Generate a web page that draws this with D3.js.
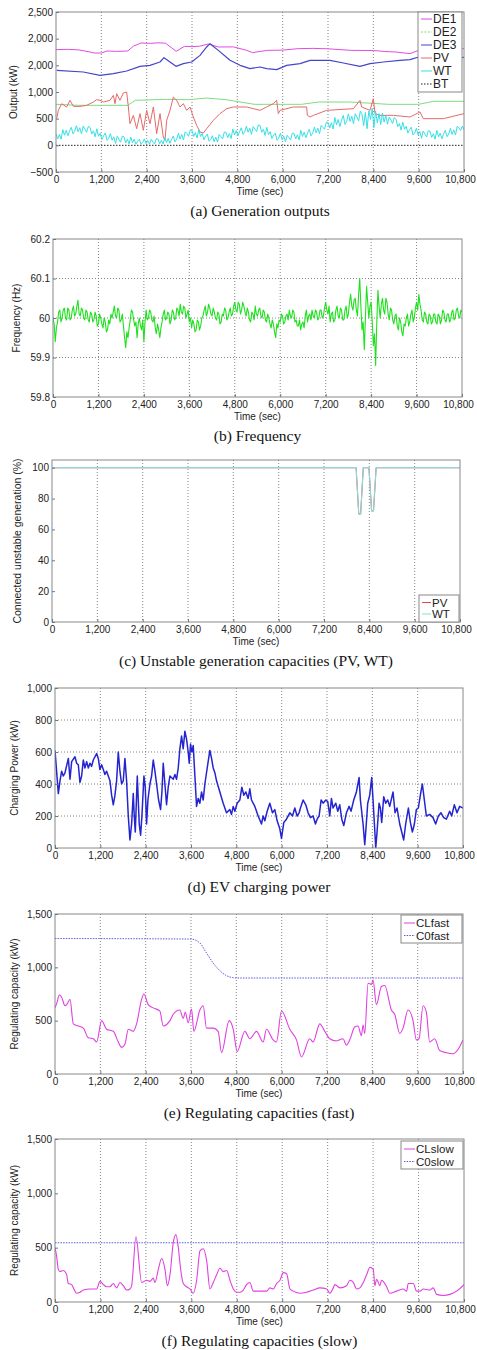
<!DOCTYPE html>
<html>
<head>
<meta charset="utf-8">
<script src="https://cdn.jsdelivr.net/npm/d3@7"></script>
<style>
  body { margin: 0; background: #fff; }
  svg { display: block; }
</style>
</head>
<body>
<svg id="fig" width="477" height="1350"></svg>
<script>
// ---- data ----
var xTicks = [0, 1200, 2400, 3600, 4800, 6000, 7200, 8400, 9600, 10800];

// (a) generation outputs, kW — [time sec, value]
var de1Output = [[0,1794],[300,1800],[600,1790],[900,1750],[1000,1731],[1200,1731],[1350,1769],[1600,1762],[1900,1769],[2050,1860],[2250,1919],[2500,1912],[2700,1922],[2900,1915],[3180,1763],[3400,1856],[3600,1850],[3800,1858],[4030,1900],[4300,1844],[4700,1846],[5050,1781],[5200,1738],[5400,1760],[5600,1781],[6000,1785],[6400,1812],[6800,1818],[7200,1810],[7800,1781],[8400,1778],[8700,1760],[9000,1750],[9370,1719],[9600,1781],[10000,1812],[10800,1812]];
var de2Output = [[0,769],[600,750],[1900,750],[2100,844],[2900,862],[3500,856],[3990,887],[4500,856],[5250,769],[6500,769],[6950,812],[7800,812],[8800,769],[9600,769],[10000,825],[10800,825]];
var de3Output = [[18,1406],[724,1375],[1165,1312],[1518,1344],[1871,1394],[2224,1481],[2488,1500],[2753,1562],[2859,1644],[3018,1562],[3177,1481],[3371,1531],[3591,1562],[3812,1687],[3988,1844],[4077,1906],[4297,1781],[4606,1594],[4871,1500],[5135,1437],[5400,1469],[5576,1437],[5841,1419],[6106,1500],[6459,1531],[6724,1594],[7253,1594],[7606,1544],[8047,1481],[8312,1531],[8665,1562],[9106,1594],[9371,1606],[9600,1656],[9812,1625],[10800,1650]];
var pvOutput = [[18,500],[62,656],[150,781],[282,718],[371,844],[459,731],[635,731],[812,750],[988,812],[1076,856],[1165,844],[1253,812],[1429,844],[1518,937],[1562,781],[1606,969],[1694,844],[1782,981],[1871,1000],[1915,719],[1959,406],[2047,562],[2135,312],[2224,594],[2312,281],[2400,656],[2488,406],[2577,719],[2665,219],[2753,594],[2841,156],[2885,94],[2930,469],[3018,656],[3106,906],[3194,844],[3283,719],[3371,781],[3459,656],[3547,719],[3635,531],[3724,375],[3812,250],[3900,231],[3988,312],[4165,469],[4341,594],[4518,687],[4694,719],[5047,719],[5400,656],[5576,719],[5753,781],[5841,844],[5885,594],[5930,656],[6283,719],[6636,719],[6653,562],[6724,531],[6812,562],[7165,656],[7871,687],[8047,844],[8091,719],[8312,656],[8400,875],[8444,594],[8577,562],[8930,562],[9371,531],[9635,625],[9724,500],[10253,500],[10800,594]];
// WT sampled every 45 s
var wtOutput = [216,120,205,115,295,190,280,182,270,337,215,262,368,255,330,216,362,305,245,355,
  335,212,272,160,310,170,227,110,180,232,95,125,220,95,160,35,170,115,60,175,
  160,46,113,28,154,50,116,22,78,114,22,52,122,32,92,22,112,62,23,125,
  117,30,93,26,148,51,130,38,117,175,64,116,227,116,204,100,255,219,169,289,
  279,169,239,137,295,165,225,103,172,212,78,105,180,68,155,60,204,160,120,250,
  245,143,220,127,306,195,275,173,260,328,205,253,361,246,320,206,350,304,258,381,
  372,245,300,185,338,202,255,129,192,226,95,132,228,105,171,68,188,144,101,227,
  224,120,197,103,280,168,246,144,232,300,178,226,340,236,322,218,374,340,302,433,
  433,324,424,305,524,384,483,353,473,562,392,451,590,448,546,405,593,531,456,641,
  576,371,617,312,645,486,688,331,645,420,595,390,603,437,561,396,530,475,410,523,
  490,350,408,286,435,302,356,230,295,340,194,226,320,194,259,133,267,212,156,274,
  262,149,217,115,282,159,227,124,214,283,161,210,318,206,288,193,357,330,280,360,290];
var btOutput = [[0,0],[10800,0]];
var yTicksA = [-500, 0, 500, 1000, 1500, 2000, 2500];
var yTickLabelsA = ['\u2212500', '0', '500', '1,000', '2,000', '2,000', '2,500'];

// (b) frequency, Hz, sampled every 30 s
var frequency = [
  60.00,59.985,59.94,59.975,59.99,60.015,60.02,59.99,60.00,60.02,60.025,60.00,59.995,60.025,60.02,59.995,60.00,60.02,60.03,60.005,
  60.01,60.03,60.045,60.01,60.005,60.025,60.02,60.00,59.995,60.02,60.015,59.995,59.99,60.015,60.01,59.99,59.995,60.015,60.005,59.98,
  59.985,60.01,60.00,59.985,59.975,60.00,59.99,59.965,59.97,59.995,59.985,60.01,60.00,60.015,60.03,60.005,60.00,60.025,60.02,59.99,
  59.995,60.01,59.98,59.95,59.925,59.965,59.95,59.975,59.995,60.02,60.015,59.995,59.98,59.99,59.95,59.985,60.00,59.98,59.97,59.995,
  59.94,59.99,60.02,59.995,60.00,60.02,60.015,59.995,59.99,60.005,59.975,59.96,59.985,59.97,59.95,59.975,59.99,60.01,60.02,59.995,
  60.00,60.015,60.01,59.985,59.995,60.02,60.015,59.995,60.00,60.025,60.02,60.005,60.035,60.015,60.01,60.03,60.025,60.00,60.01,60.02,
  59.99,60.00,59.975,59.995,59.985,59.965,59.97,59.995,59.99,59.97,59.98,60.00,60.005,60.02,60.03,60.005,60.015,60.035,60.025,60.01,
  60.005,60.025,60.015,60.00,59.995,60.015,60.01,59.985,59.99,60.01,60.005,60.025,60.02,59.995,60.00,60.015,60.025,60.005,60.01,60.03,
  60.04,60.02,60.015,60.04,60.035,60.01,60.02,60.04,60.03,60.015,60.005,60.025,60.015,59.995,59.99,60.015,60.01,59.995,60.03,60.01,
  60.005,60.02,60.025,60.005,60.00,60.02,60.015,59.995,59.99,60.01,60.00,59.985,59.975,59.995,59.985,59.965,59.95,59.985,59.975,59.995,
  59.99,60.01,60.005,59.985,59.99,60.005,60.01,59.995,60.02,60.005,60.00,60.02,60.015,59.99,59.995,59.98,59.98,59.995,59.97,59.985,
  59.99,59.975,60.005,60.02,59.99,60.005,60.01,59.995,60.02,60.005,60.00,60.02,60.015,59.995,60.00,60.02,60.02,60.00,60.005,60.025,
  60.04,60.02,60.01,60.03,59.99,60.01,60.015,59.99,59.995,60.02,60.03,60.005,60.00,60.025,60.02,59.995,59.995,60.02,60.03,60.00,
  60.01,60.04,60.06,60.03,60.02,60.045,60.05,60.02,60.005,60.06,60.10,60.03,59.97,59.99,59.92,60.00,60.08,60.04,60.00,60.03,
  60.04,59.99,59.93,59.96,59.88,59.99,60.07,60.03,60.00,60.035,60.05,60.02,60.01,60.05,60.04,60.01,59.995,60.025,60.02,59.995,
  59.985,60.005,60.01,59.98,59.97,60.00,59.99,59.965,59.955,59.985,59.98,60.00,60.01,59.98,59.99,60.01,60.02,59.99,60.00,60.025,
  60.04,60.02,60.06,60.035,60.02,59.995,59.99,60.015,60.01,59.99,59.985,60.01,60.005,59.985,59.99,60.01,60.01,59.99,59.985,60.01,
  60.005,59.985,59.995,60.02,60.015,59.995,59.99,60.01,60.01,59.99,59.995,60.015,60.02,59.995,60.00,60.02,60.025,60.005,60.00,60.02,
  60.015];
var yTicksB = [59.8, 59.9, 60, 60.1, 60.2];
var yTickLabelsB = ['59.8', '59.9', '60', '60.1', '60.2'];

// (c) connected unstable generation, %
var connPV = [[0,100],[8050,100],[8120,70],[8170,70],[8240,100],[8390,100],[8460,72],[8510,72],[8580,100],[10800,100]];
var connWT = [[0,100],[8050,100],[8120,70],[8170,70],[8240,100],[8390,100],[8460,72],[8510,72],[8580,100],[10800,100]];
var yTicksC = [0, 20, 40, 60, 80, 100];

// (d) EV charging power, kW
var evPower = [[0,610],[88,340],[132,420],[176,480],[220,450],[264,470],[353,560],[397,430],[441,540],[529,570],[573,530],[617,520],[661,410],[705,450],[749,550],[793,500],[838,540],[882,500],[926,530],[970,510],[1014,550],[1102,590],[1146,560],[1190,490],[1234,520],[1278,490],[1322,460],[1366,480],[1455,420],[1499,330],[1543,270],[1587,330],[1631,420],[1675,600],[1719,480],[1763,400],[1807,420],[1851,560],[1895,420],[1940,200],[1984,50],[2028,150],[2072,340],[2098,200],[2125,100],[2178,450],[2230,150],[2266,80],[2301,200],[2354,450],[2389,380],[2424,150],[2460,300],[2513,400],[2557,450],[2601,550],[2645,480],[2689,400],[2742,300],[2795,240],[2830,350],[2865,530],[2909,400],[2953,270],[2997,380],[3042,450],[3130,430],[3174,460],[3218,430],[3262,500],[3306,620],[3350,700],[3394,620],[3438,730],[3482,680],[3526,600],[3553,530],[3588,650],[3623,600],[3659,640],[3703,450],[3747,260],[3791,310],[3835,280],[3879,350],[3923,300],[3967,400],[4029,500],[4099,610],[4144,560],[4188,500],[4232,470],[4276,420],[4364,350],[4452,280],[4540,220],[4628,240],[4672,210],[4717,260],[4761,230],[4822,280],[4893,300],[4946,380],[4999,330],[5052,350],[5113,310],[5157,370],[5201,300],[5290,260],[5378,200],[5466,150],[5510,200],[5554,170],[5616,230],[5686,280],[5757,220],[5819,240],[5880,170],[5951,120],[5995,60],[6057,160],[6127,180],[6215,220],[6286,200],[6348,250],[6409,200],[6462,220],[6497,250],[6568,300],[6638,270],[6700,220],[6762,190],[6832,200],[6894,150],[6938,180],[6991,200],[7044,300],[7097,280],[7168,300],[7220,290],[7273,200],[7317,310],[7361,250],[7432,280],[7485,230],[7538,270],[7591,180],[7644,140],[7714,220],[7785,260],[7837,230],[7908,300],[7978,350],[8049,440],[8084,300],[8155,150],[8199,20],[8225,100],[8278,280],[8331,330],[8384,440],[8419,300],[8455,150],[8490,0],[8525,100],[8578,280],[8613,250],[8648,160],[8701,320],[8754,280],[8807,300],[8860,260],[8948,350],[9001,220],[9054,250],[9125,150],[9178,100],[9230,50],[9283,150],[9354,250],[9407,160],[9460,100],[9513,150],[9565,240],[9618,250],[9671,330],[9724,400],[9777,300],[9830,200],[9918,210],[10006,190],[10077,150],[10147,200],[10218,220],[10288,190],[10359,180],[10447,230],[10500,200],[10570,270],[10641,220],[10712,260],[10800,250]];
var yTicksD = [0, 200, 400, 600, 800, 1000];

// (e) regulating capacities (fast), kW
var clFast = [[0,620],[44,660],[115,740],[176,720],[264,640],[326,660],[397,700],[485,470],[617,450],[749,430],[882,340],[1014,330],[1102,300],[1234,500],[1366,420],[1543,400],[1675,300],[1763,250],[1851,280],[1940,420],[2072,400],[2160,470],[2292,700],[2354,750],[2468,650],[2601,620],[2777,590],[2865,450],[3042,500],[3130,560],[3306,600],[3394,520],[3447,580],[3526,480],[3614,610],[3676,400],[3835,600],[3923,640],[4011,430],[4188,430],[4320,400],[4408,200],[4611,500],[4717,420],[4822,210],[5025,400],[5157,330],[5334,400],[5510,300],[5598,420],[5774,320],[5863,300],[5995,590],[6215,420],[6392,320],[6524,160],[6744,330],[6832,300],[7009,470],[7141,400],[7273,330],[7450,310],[7626,330],[7714,270],[7802,320],[7934,440],[8022,450],[8111,360],[8155,460],[8199,380],[8287,850],[8375,840],[8419,880],[8508,650],[8640,820],[8728,830],[8904,600],[8992,560],[9125,380],[9213,430],[9345,600],[9477,500],[9565,320],[9636,330],[9742,640],[9830,580],[9918,300],[10050,330],[10182,220],[10359,200],[10535,190],[10667,230],[10800,320]];
var c0Fast = [[0,1270],[3600,1265],[3835,1228],[4011,1134],[4188,1040],[4364,969],[4540,922],[4717,903],[4800,900],[10800,900]];

// (f) regulating capacities (slow), kW
var clSlow = [[0,500],[44,420],[88,300],[132,280],[220,290],[308,250],[352,170],[440,160],[484,130],[572,80],[660,90],[748,110],[924,120],[1100,120],[1188,190],[1276,160],[1364,140],[1452,140],[1540,170],[1628,130],[1716,180],[1804,150],[1892,110],[1980,120],[2024,150],[2138,600],[2288,180],[2420,200],[2508,190],[2596,220],[2640,180],[2728,300],[2816,400],[2904,300],[2966,150],[3036,250],[3124,550],[3194,620],[3256,500],[3318,300],[3388,170],[3476,140],[3564,120],[3652,80],[3740,200],[3828,470],[3916,490],[4004,380],[4092,120],[4180,180],[4268,250],[4356,310],[4444,280],[4532,290],[4620,200],[4708,120],[4796,90],[4884,90],[4972,110],[5060,160],[5148,180],[5236,100],[5412,100],[5588,100],[5676,130],[5764,120],[5852,170],[5940,200],[6028,270],[6116,260],[6204,120],[6292,100],[6468,80],[6644,90],[6820,110],[6996,130],[7172,120],[7260,80],[7348,130],[7392,160],[7524,130],[7700,150],[7788,200],[7876,180],[7964,120],[8052,130],[8140,180],[8228,250],[8316,320],[8404,300],[8448,150],[8492,210],[8580,150],[8624,200],[8668,190],[8756,140],[8844,80],[9020,100],[9196,120],[9284,100],[9328,170],[9460,170],[9548,100],[9636,100],[9724,120],[9900,110],[9988,130],[10076,70],[10252,60],[10428,70],[10604,100],[10800,160]];
var c0Slow = [[0,545],[10800,545]];
var yTicksEF = [0, 500, 1000, 1500];

// ---- drawing ----
var svg = d3.select('#fig');
var SANS = "'Liberation Sans', Arial, sans-serif";
var SERIF = "'Liberation Serif', 'Times New Roman', serif";

function sampled(values, step) {
  return values.map(function(v, i) { return [i * step, v]; });
}

function drawPanel(p) {
  var x = d3.scaleLinear().domain([0, 10800]).range([p.left, p.right]);
  var y = d3.scaleLinear().domain(p.yDomain).range([p.bottom, p.top]);
  var g = svg.append('g');
  var clipId = 'clip-' + p.key;

  g.append('clipPath').attr('id', clipId)
    .append('rect')
    .attr('x', p.left).attr('y', p.top)
    .attr('width', p.right - p.left).attr('height', p.bottom - p.top);

  // dotted grid
  g.selectAll('line.vgrid').data(xTicks.slice(1, -1)).enter().append('line')
    .attr('x1', function(d) { return x(d); }).attr('x2', function(d) { return x(d); })
    .attr('y1', p.top).attr('y2', p.bottom)
    .attr('stroke', '#666').attr('stroke-width', 0.8).attr('stroke-dasharray', '1,2');
  if (p.hGrid) {
    g.selectAll('line.hgrid').data(p.yTicks.slice(1, -1)).enter().append('line')
      .attr('x1', p.left).attr('x2', p.right)
      .attr('y1', function(d) { return y(d); }).attr('y2', function(d) { return y(d); })
      .attr('stroke', '#666').attr('stroke-width', 0.8).attr('stroke-dasharray', '1,2');
  }

  // series
  p.series.forEach(function(s) {
    var line = d3.line()
      .x(function(d) { return x(d[0]); })
      .y(function(d) { return y(d[1]); })
      .curve(s.curve || d3.curveLinear);
    g.append('path').datum(s.data)
      .attr('clip-path', 'url(#' + clipId + ')')
      .attr('d', line)
      .attr('fill', 'none')
      .attr('stroke', s.color)
      .attr('stroke-width', s.width || 1)
      .attr('stroke-dasharray', s.dash || null)
      .attr('stroke-linejoin', 'round');
  });

  // frame
  g.append('rect')
    .attr('x', p.left).attr('y', p.top)
    .attr('width', p.right - p.left).attr('height', p.bottom - p.top)
    .attr('fill', 'none').attr('stroke', '#888').attr('stroke-width', 1);

  // axes
  var xAxis = d3.axisBottom(x).tickValues(xTicks).tickFormat(d3.format(','))
    .tickSize(-3).tickPadding(4);
  var gx = g.append('g').attr('transform', 'translate(0,' + p.bottom + ')').call(xAxis);
  var yAxis = d3.axisLeft(y).tickValues(p.yTicks)
    .tickFormat(p.yLabels ? function(d, i) { return p.yLabels[i]; } : d3.format(','))
    .tickSize(-3).tickPadding(3);
  var gy = g.append('g').attr('transform', 'translate(' + p.left + ',0)').call(yAxis);
  [gx, gy].forEach(function(a) {
    a.select('.domain').remove();
    a.attr('font-family', SANS).attr('font-size', 10);
    a.selectAll('text').attr('fill', '#222');
    a.selectAll('line').attr('stroke', '#777');
  });
  // keep the last time label inside the page
  gx.selectAll('.tick:last-of-type text').attr('dx', -4);

  // axis titles and caption
  g.append('text')
    .attr('x', (p.left + p.right) / 2).attr('y', p.bottom + 23)
    .attr('text-anchor', 'middle').attr('font-family', SANS).attr('font-size', 10).attr('fill', '#222')
    .text('Time (sec)');
  g.append('text')
    .attr('transform', 'translate(' + p.yTitleX + ',' + ((p.top + p.bottom) / 2) + ') rotate(-90)')
    .attr('text-anchor', 'middle').attr('font-family', SANS).attr('font-size', p.yTitleSize || 10).attr('fill', '#222')
    .text(p.yTitle);
  g.append('text')
    .attr('x', (p.left + p.right) / 2).attr('y', p.bottom + 44)
    .attr('text-anchor', 'middle').attr('font-family', SERIF).attr('font-size', 15.5).attr('fill', '#111')
    .text(p.caption);

  if (p.legend) {
    var L = p.legend;
    g.append('rect')
      .attr('x', L.x).attr('y', L.y).attr('width', L.w).attr('height', L.h)
      .attr('fill', '#fff').attr('stroke', '#888').attr('stroke-width', 1);
    var rows = g.selectAll('g.leg').data(L.entries).enter().append('g')
      .attr('transform', function(d, i) { return 'translate(' + L.x + ',' + (L.y + L.first + i * L.step) + ')'; });
    rows.append('line')
      .attr('x1', L.sw0).attr('x2', L.sw1).attr('y1', 0).attr('y2', 0)
      .attr('stroke', function(d) { return d.color; })
      .attr('stroke-width', 1)
      .attr('stroke-dasharray', function(d) { return d.legendDash || null; });
    rows.append('text')
      .attr('x', L.sw1 + 1).attr('y', 4.2)
      .attr('font-family', SANS).attr('font-size', L.font).attr('fill', '#222')
      .text(function(d) { return d.label; });
  }
}

// (a)
var seriesA = [
  { label: 'DE1', data: de1Output, color: '#e24be2' },
  { label: 'DE2', data: de2Output, color: '#7fdc7f', legendDash: '2,1.5' },
  { label: 'DE3', data: de3Output, color: '#4545cc', width: 1.2 },
  { label: 'PV', data: pvOutput, color: '#e66a6a' },
  { label: 'WT', data: sampled(wtOutput, 45), color: '#35e0e6' },
  { label: 'BT', data: btOutput, color: '#222', dash: '1.5,1.5', legendDash: '1.5,1.5' }
];
drawPanel({
  key: 'a', left: 56, right: 464, top: 12, bottom: 172,
  yDomain: [-500, 2500], yTicks: yTicksA, yLabels: yTickLabelsA,
  yTitle: 'Output (kW)', yTitleX: 17, caption: '(a) Generation outputs',
  series: seriesA,
  legend: { x: 418, y: 12, w: 44, h: 80, first: 7, step: 13, sw0: 3, sw1: 14, font: 12,
            entries: seriesA }
});

// (b)
drawPanel({
  key: 'b', left: 53, right: 462, top: 239, bottom: 397,
  yDomain: [59.8, 60.2], yTicks: yTicksB, yLabels: yTickLabelsB, hGrid: true,
  yTitle: 'Frequency (Hz)', yTitleX: 20, caption: '(b) Frequency',
  series: [{ label: 'f', data: sampled(frequency, 30), color: '#1fe01f', width: 1.1 }]
});

// (c)
var seriesC = [
  { label: 'PV', data: connPV, color: '#e04848' },
  { label: 'WT', data: connWT, color: '#8fd6d6', width: 1.2 }
];
drawPanel({
  key: 'c', left: 52, right: 460, top: 460, bottom: 622,
  yDomain: [0, 105], yTicks: yTicksC,
  yTitle: 'Connected unstable generation (%)', yTitleX: 21, yTitleSize: 10.5,
  caption: '(c) Unstable generation capacities (PV, WT)',
  series: seriesC,
  legend: { x: 419, y: 595, w: 40, h: 27, first: 7.5, step: 11.5, sw0: 3, sw1: 12, font: 11.5,
            entries: seriesC }
});

// (d)
drawPanel({
  key: 'd', left: 55, right: 463, top: 688, bottom: 848,
  yDomain: [0, 1000], yTicks: yTicksD, hGrid: true,
  yTitle: 'Charging Power (kW)', yTitleX: 18, caption: '(d) EV charging power',
  series: [{ label: 'EV', data: evPower, color: '#2424d0', width: 1.5 }]
});

// (e)
var seriesE = [
  { label: 'CLfast', data: clFast, color: '#e040e0', width: 1.1, curve: d3.curveMonotoneX },
  { label: 'C0fast', data: c0Fast, color: '#5a5ae0', dash: '1.5,1.2', legendDash: '1.5,1.2', curve: d3.curveMonotoneX }
];
drawPanel({
  key: 'e', left: 55, right: 463, top: 914, bottom: 1074,
  yDomain: [0, 1500], yTicks: yTicksEF,
  yTitle: 'Regulating capacity (kW)', yTitleX: 18, caption: '(e) Regulating capacities (fast)',
  series: seriesE,
  legend: { x: 401, y: 915, w: 61, h: 28, first: 8, step: 12.5, sw0: 3, sw1: 14, font: 11.5,
            entries: seriesE }
});

// (f)
var seriesF = [
  { label: 'CLslow', data: clSlow, color: '#e040e0', width: 1.1, curve: d3.curveMonotoneX },
  { label: 'C0slow', data: c0Slow, color: '#5a5ae0', dash: '1.5,1.2', legendDash: '1.5,1.2' }
];
drawPanel({
  key: 'f', left: 55, right: 464, top: 1139, bottom: 1302,
  yDomain: [0, 1500], yTicks: yTicksEF,
  yTitle: 'Regulating capacity (kW)', yTitleX: 18, caption: '(f) Regulating capacities (slow)',
  series: seriesF,
  legend: { x: 401, y: 1141, w: 62, h: 28, first: 8, step: 12.5, sw0: 3, sw1: 14, font: 11.5,
            entries: seriesF }
});
</script>
</body>
</html>
